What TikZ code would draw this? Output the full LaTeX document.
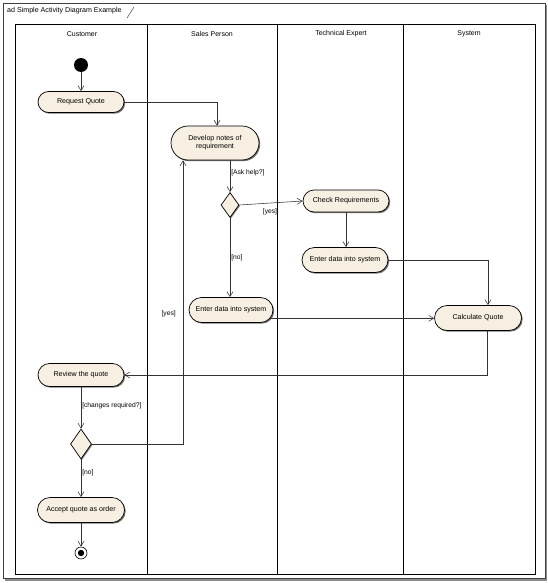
\documentclass[tikz,border=0pt]{standalone}
\usepackage{fontspec}
\setmainfont{Liberation Sans}
\usetikzlibrary{arrows.meta,shapes.misc,shapes.geometric,shadows}
\definecolor{actfill}{RGB}{247,239,225}
\begin{document}
\begin{tikzpicture}[x=1pt,y=-1pt,
  act/.style={rounded rectangle, draw=black, line width=0.7pt, fill=actfill,
    font=\fontsize{7.1}{8.2}\selectfont, inner sep=1pt, align=center,
    drop shadow={shadow xshift=1.2pt, shadow yshift=-1.2pt, fill=black!55, opacity=1}},
  decis/.style={diamond, draw=black, line width=0.7pt, fill=actfill, inner sep=0pt,
    drop shadow={shadow xshift=1pt, shadow yshift=-1pt, fill=black!55, opacity=1}},
  conn/.style={draw=black!80, line width=0.55pt, -{Straight Barb[length=5pt,width=6pt,line width=0.55pt]}},
  lbl/.style={font=\fontsize{6.7}{7.7}\selectfont, inner sep=1pt},
  lane/.style={draw=black, line width=0.8pt},
  hdr/.style={font=\fontsize{7}{8}\selectfont, inner sep=0pt}]
\useasboundingbox (0,0) rectangle (548,583);
% outer frame with shadow
\draw[black!45, line width=1.6pt] (546.5,5) -- (546.5,580) -- (5,580);
\draw[black!75, line width=0.6pt] (3,3) rectangle (545,578);
\node[font=\fontsize{7.1}{8}\selectfont, inner sep=0pt, anchor=west] (title) at (7,11) {ad Simple Activity Diagram Example};
\draw[black!75, line width=0.5pt] (127,18) -- (134,7);
% lanes
\draw[lane] (15,24) rectangle (535,574);
\draw[lane] (147,24) -- (147,574);
\draw[lane] (277,24) -- (277,574);
\draw[lane] (403,24) -- (403,574);
\node[hdr] (hcust) at (82,34) {Customer};
\node[hdr] (hsales) at (212,34) {Sales Person};
\node[hdr] (htech) at (341,34) {Technical Expert};
\node[hdr] (hsys) at (469,34) {System};
% nodes
\node[circle, fill=black, minimum size=14pt, inner sep=0pt] (start) at (81,65) {};
\node[act, minimum width=88pt, minimum height=21pt] (RQ) at (81,102) {Request Quote};
\node[act, minimum width=90pt, minimum height=34pt] (DN) at (215,143) {Develop notes of\\requirement};
\node[decis, minimum width=18pt, minimum height=25pt] (D1) at (230,205) {};
\node[act, minimum width=88pt, minimum height=22pt] (CR) at (346,201) {Check Requirements};
\node[act, minimum width=88pt, minimum height=25pt] (EDT) at (345,260) {Enter data into system};
\node[act, minimum width=86pt, minimum height=25pt] (EDS) at (231,310) {Enter data into system};
\node[act, minimum width=89pt, minimum height=25pt] (CQ) at (478,318) {Calculate Quote};
\node[act, minimum width=88pt, minimum height=23pt] (RV) at (81,375) {Review the quote};
\node[decis, minimum width=21pt, minimum height=30pt] (D2) at (81,444) {};
\node[act, minimum width=89pt, minimum height=25pt] (AQ) at (81,510) {Accept quote as order};
\node[circle, draw=black, line width=0.6pt, fill=white, minimum size=12pt, inner sep=0pt,
  path picture={\fill[black] (path picture bounding box.center) circle (3.2pt);}] (END) at (81,553) {};
% connectors
\draw[conn] (start) -- (RQ.north);
\draw[conn] (RQ.east) -| ([xshift=2pt]DN.north);
\draw[conn] (D1.north |- DN.south) -- node[lbl, right, pos=0.4] (l1) {[Ask help?]} (D1.north);
\draw[conn] (D1.east) -- (CR.west);
\node[lbl] (l2) at (270,212) {[yes]};
\draw[conn] (CR.south) -- (CR.south |- EDT.north);
\draw[conn] (D1.south) -- node[lbl, right, pos=0.5] (l3) {[no]} (D1.south |- EDS.north);
\draw[conn] (EDT.east) -| ([xshift=10pt]CQ.north);
\draw[conn] (EDS.-12) -- (EDS.-12 -| CQ.west);
\draw[conn] ([xshift=9pt]CQ.south) |- (RV.east);
\draw[conn] (RV.south) -- node[lbl, right, pos=0.45] (l4) {[changes required?]} (D2.north);
\draw[conn] (D2.east) -| node[lbl, left, pos=0.73, xshift=-6pt] (l5) {[yes]} ([xshift=-32pt]DN.south);
\draw[conn] (D2.south) -- node[lbl, right, pos=0.35] (l6) {[no]} (AQ.north);
\draw[conn] (AQ.south) -- (END.north);
\end{tikzpicture}
\end{document}
